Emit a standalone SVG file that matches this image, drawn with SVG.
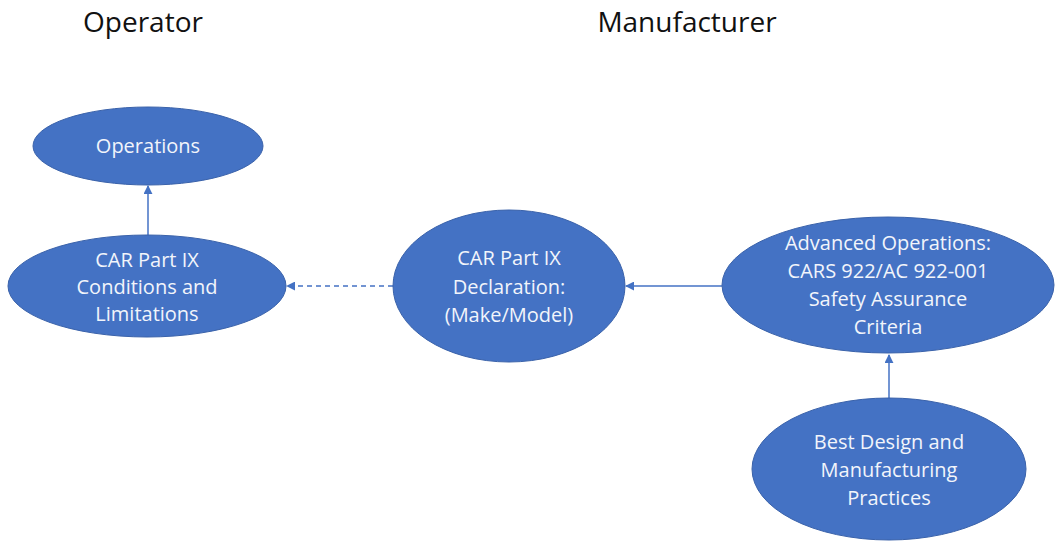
<svg xmlns="http://www.w3.org/2000/svg" width="1058" height="542" viewBox="0 0 1058 542">
  <style>
    .node { fill: #4472C4; stroke: #3A62AA; stroke-width: 1; }
    .label { font-family: "Open Sans", "Liberation Sans", sans-serif; font-size: 20px; fill: #F2F5FB; text-anchor: middle; }
    .title { font-family: "Open Sans", "Liberation Sans", sans-serif; font-size: 28px; fill: #111111; text-anchor: middle; }
    .edge { stroke: #4472C4; stroke-width: 1.5; fill: none; }
    .dashed { stroke-dasharray: 5 4; }
  </style>
  <defs>
    <marker id="arrow" viewBox="0 0 10 10" refX="9" refY="5" markerWidth="9" markerHeight="9" markerUnits="userSpaceOnUse" orient="auto">
      <path d="M0,0 L10,5 L0,10 z" fill="#4472C4"/>
    </marker>
  </defs>

  <text class="title" x="143" y="32">Operator</text>
  <text class="title" x="687" y="32">Manufacturer</text>

  <g id="connectors">
    <line class="edge" x1="148" y1="235" x2="148" y2="186" marker-end="url(#arrow)"/>
    <line class="edge dashed" x1="393" y1="286" x2="287" y2="286" marker-end="url(#arrow)"/>
    <line class="edge" x1="722" y1="286" x2="626" y2="286" marker-end="url(#arrow)"/>
    <line class="edge" x1="889" y1="398" x2="889" y2="355" marker-end="url(#arrow)"/>
  </g>

  <g id="operations">
    <ellipse class="node" cx="148" cy="146" rx="115" ry="39"/>
    <text class="label" x="148" y="153">Operations</text>
  </g>

  <g id="conditions">
    <ellipse class="node" cx="147" cy="286" rx="139" ry="51"/>
    <text class="label" x="147" y="267">CAR Part IX</text>
    <text class="label" x="147" y="294">Conditions and</text>
    <text class="label" x="147" y="321">Limitations</text>
  </g>

  <g id="declaration">
    <ellipse class="node" cx="509" cy="286" rx="116" ry="76"/>
    <text class="label" x="509" y="265">CAR Part IX</text>
    <text class="label" x="509" y="294">Declaration:</text>
    <text class="label" x="509" y="322">(Make/Model)</text>
  </g>

  <g id="advanced">
    <ellipse class="node" cx="888" cy="285" rx="166" ry="68"/>
    <text class="label" x="888" y="250">Advanced Operations:</text>
    <text class="label" x="888" y="278">CARS 922/AC 922-001</text>
    <text class="label" x="888" y="306">Safety Assurance</text>
    <text class="label" x="888" y="334">Criteria</text>
  </g>

  <g id="best-practices">
    <ellipse class="node" cx="889" cy="469" rx="137" ry="71"/>
    <text class="label" x="889" y="449">Best Design and</text>
    <text class="label" x="889" y="477">Manufacturing</text>
    <text class="label" x="889" y="505">Practices</text>
  </g>
</svg>
